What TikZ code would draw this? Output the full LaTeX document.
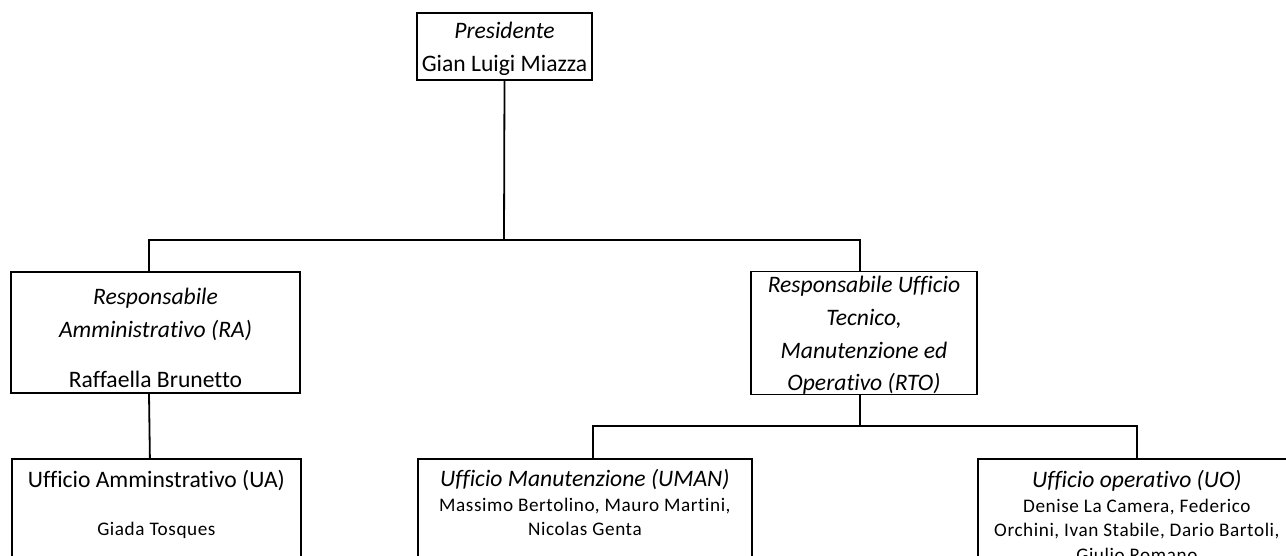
\documentclass[tikz,border=0pt]{standalone}
\usepackage{fontspec}
\setmainfont{Carlito}[Ligatures=NoCommon]
\newfontfamily\namesfont[LetterSpace=3,Ligatures=NoCommon]{Carlito}

\tikzset{
  px/.style={x=0.5pt,y=-0.5pt},
  box/.style={draw, line width=0.9pt, inner sep=0pt},
  boxtext/.style={align=center, inner sep=0pt, font=\fontsize{11.8}{16.3}\selectfont},
  namestext/.style={align=center, inner sep=0pt, font=\namesfont\fontsize{9.6}{12.3}\selectfont},
  link/.style={line width=0.9pt},
}
\newcommand{\boxtitle}[1]{{\normalfont\fontsize{11.8}{12.3}\selectfont #1}}
\newcommand{\padtop}[2]{\raisebox{0pt}[\dimexpr\height+#1\relax]{#2}}

\begin{document}
\begin{tikzpicture}[px]
\useasboundingbox (0,0) rectangle (1286,556);
\clip (0,0) rectangle (1286,556);

\node[box, boxtext, minimum width=87.5pt, minimum height=33.5pt] (pres) at (504.5,46.5)
  {\padtop{2.5pt}{\textit{Presidente}}\\Gian Luigi Miazza};
\node[box, boxtext, minimum width=144.5pt, minimum height=60.5pt] (ra) at (155.5,332.5)
  {\padtop{5.5pt}{\textit{Responsabile}}\\\textit{Amministrativo (RA)}\\[9pt]Raffaella Brunetto};
\node[box, boxtext, minimum width=113pt, minimum height=61pt] (rto) at (864,333)
  {\padtop{2.5pt}{\textit{Responsabile Ufficio}}\\\textit{Tecnico,}\\\textit{Manutenzione ed}\\\textit{Operativo (RTO)}};

\node[box, minimum width=144.5pt, minimum height=60pt, anchor=north west] (ua) at (11,458) {};
\node[box, minimum width=167pt, minimum height=60pt, anchor=north west] (uman) at (417,458) {};
\node[box, minimum width=159pt, minimum height=60pt, anchor=north west] (uo) at (977,458) {};

\node[namestext, anchor=north] (uatext) at ([yshift=-6pt]ua.north)
  {\boxtitle{Ufficio Amminstrativo (UA)}\\[11.7pt]Giada Tosques};
\node[namestext, anchor=north] (umantext) at ([yshift=-5.5pt]uman.north)
  {\boxtitle{\itshape Ufficio Manutenzione (UMAN)}\\Massimo Bertolino, Mauro Martini,\\Nicolas Genta};
\node[namestext, anchor=north] (uotext) at ([yshift=-6pt]uo.north)
  {\boxtitle{\itshape Ufficio operativo (UO)}\\Denise La Camera, Federico\\Orchini, Ivan Stabile, Dario Bartoli,\\Giulio Romano};

\coordinate (split1) at (504,240);
\coordinate (split2) at (860,426);
\draw[link] (pres.south) -- (split1);
\draw[link] ([xshift=-3.25pt]ra.north) |- (split1) -| ([xshift=-2pt]rto.north);
\draw[link] ([xshift=-3.25pt]ra.south) -- ([xshift=-3.25pt]ua.north);
\draw[link] ([xshift=-2pt]rto.south) -- (split2);
\draw[link] ([xshift=4pt]uman.north) |- (split2) -| (uo.north);
\end{tikzpicture}
\end{document}
